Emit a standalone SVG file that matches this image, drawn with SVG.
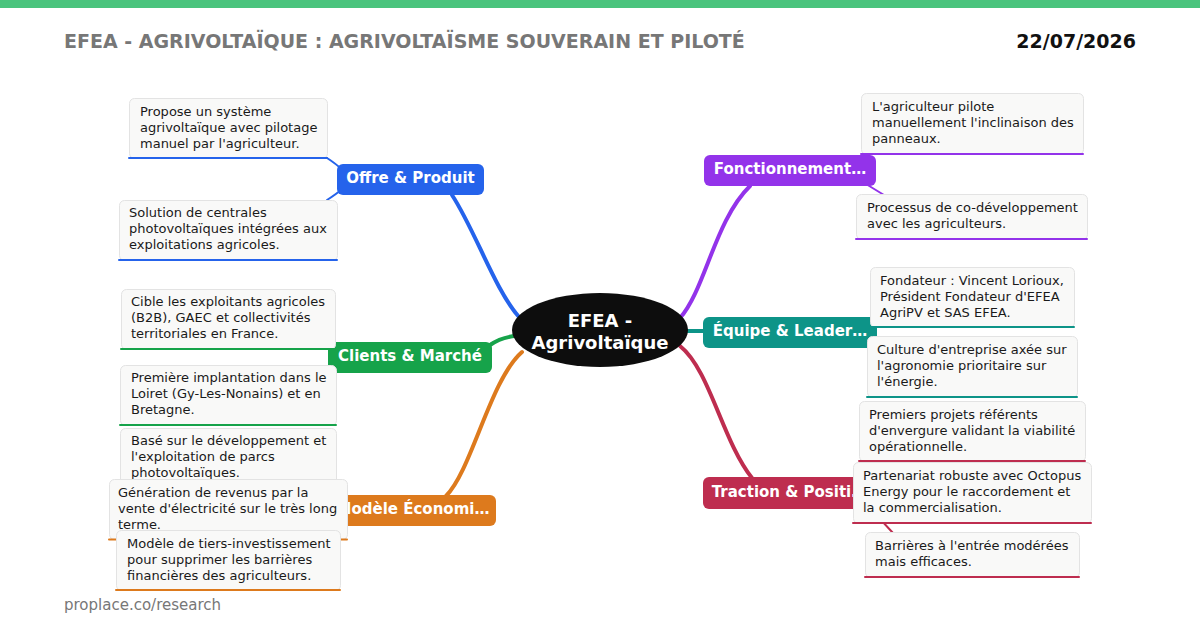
<svg xmlns="http://www.w3.org/2000/svg" width="1200" height="630" viewBox="0 0 1200 630">
<style>
text{font-family:"DejaVu Sans","Liberation Sans",sans-serif}
.title{font-size:19px;font-weight:bold;fill:#777}
.date{font-size:19px;font-weight:bold;fill:#111}
.foot{font-size:15px;fill:#777}
.br{font-size:15px;font-weight:bold;fill:#fff}
.lf{font-size:13px;fill:#1a1a1a}
.card{fill:#f9f9f8;stroke:#e3e3e3;stroke-width:1}
.main{fill:none;stroke-width:4;stroke-linecap:round}
.sub{fill:none;stroke-width:2;stroke-linecap:round}
.blue{stroke:#2563EB}.green{stroke:#16A34A}.orange{stroke:#DD7A1D}
.purple{stroke:#9333EA}.teal{stroke:#0D9488}.crimson{stroke:#BE2D4F}
</style>
<rect x="0" y="0" width="1200" height="630" fill="#fff"/>
<rect x="0" y="0" width="1200" height="8" fill="#4AC47D"/>
<text class="title" x="64" y="48">EFEA - AGRIVOLTAÏQUE : AGRIVOLTAÏSME SOUVERAIN ET PILOTÉ</text>
<text class="date" x="1136" y="48" text-anchor="end">22/07/2026</text>
<text class="foot" x="64" y="610">proplace.co/research</text>

<g id="connectors">
<path class="main blue" d="M 519 317 C 495 290, 475 230, 452 195"/>
<path class="main green" d="M 514 336 Q 500 338 490 345"/>
<path class="main orange" d="M 522 352 C 490 380, 472 470, 446 496"/>
<path class="main purple" d="M 680 318 C 705 290, 715 220, 750 186"/>
<path class="main teal" d="M 686 331 L 704 331"/>
<path class="main crimson" d="M 680 346 C 710 370, 722 440, 752 478"/>
<path class="sub blue" d="M 345 172 Q 335 163 327 158"/>
<path class="sub blue" d="M 345 187 Q 335 195 327 200"/>
<path class="sub green" d="M 340 350 L 334 348"/>
<path class="sub green" d="M 340 366 L 334 368"/>
<path class="sub orange" d="M 340 505 L 330 480"/>
<path class="sub orange" d="M 340 510 L 340 512"/>
<path class="sub orange" d="M 340 518 L 335 532"/>
<path class="sub purple" d="M 865 163 L 862 154"/>
<path class="sub purple" d="M 866 184 L 884 195"/>
<path class="sub teal" d="M 870 326 L 872 320"/>
<path class="sub teal" d="M 870 338 L 870 342"/>
<path class="sub crimson" d="M 860 480 L 862 460"/>
<path class="sub crimson" d="M 860 493 L 856 495"/>
<path class="sub crimson" d="M 868 506 L 893 533"/>
</g>

<g id="center">
<ellipse cx="600" cy="330" rx="88" ry="37" fill="#0d0d0d"/>
<text x="600" y="327" text-anchor="middle" font-size="18" font-weight="bold" fill="#fff">EFEA -</text>
<text x="600" y="349" text-anchor="middle" font-size="18" font-weight="bold" fill="#fff">Agrivoltaïque</text>
</g>

<g id="b-offre"><rect x="337" y="164" width="147" height="31" rx="6" fill="#2563EB"/><text class="br" x="410.5" y="183" text-anchor="middle">Offre &amp; Produit</text></g>
<g id="b-clients"><rect x="328" y="342" width="164" height="31" rx="6" fill="#16A34A"/><text class="br" x="410" y="361" text-anchor="middle">Clients &amp; Marché</text></g>
<g id="b-modele"><rect x="330" y="495" width="166" height="31" rx="6" fill="#DD7A1D"/><text class="br" x="413" y="514" text-anchor="middle">Modèle Économi…</text></g>
<g id="b-fonct"><rect x="704" y="155" width="172" height="31" rx="6" fill="#9333EA"/><text class="br" x="790" y="174" text-anchor="middle">Fonctionnement…</text></g>
<g id="b-equipe"><rect x="703" y="317" width="174" height="31" rx="6" fill="#0D9488"/><text class="br" x="790" y="336" text-anchor="middle">Équipe &amp; Leader…</text></g>
<g id="b-traction"><rect x="703" y="477" width="172" height="32" rx="6" fill="#BE2D4F"/><text class="br" x="789" y="497" text-anchor="middle">Traction &amp; Positi…</text></g>

<g id="l-offre-1"><rect class="card" x="129.5" y="98.5" width="198" height="60" rx="5"/><line class="sub blue" x1="129" y1="158" x2="327" y2="158" stroke-linecap="butt"/>
<text class="lf" x="140"><tspan x="140" y="116">Propose un système</tspan><tspan x="140" y="132">agrivoltaïque avec pilotage</tspan><tspan x="140" y="148">manuel par l'agriculteur.</tspan></text></g>
<g id="l-offre-2"><rect class="card" x="119.5" y="200.5" width="218" height="60" rx="5"/><line class="sub blue" x1="119" y1="260" x2="337" y2="260" stroke-linecap="butt"/>
<text class="lf"><tspan x="129" y="217">Solution de centrales</tspan><tspan x="129" y="233">photovoltaïques intégrées aux</tspan><tspan x="129" y="249">exploitations agricoles.</tspan></text></g>

<g id="l-clients-1"><rect class="card" x="121.5" y="289.5" width="214" height="60" rx="5"/><line class="sub green" x1="121" y1="349" x2="335" y2="349" stroke-linecap="butt"/>
<text class="lf"><tspan x="131" y="306">Cible les exploitants agricoles</tspan><tspan x="131" y="322">(B2B), GAEC et collectivités</tspan><tspan x="131" y="338">territoriales en France.</tspan></text></g>
<g id="l-clients-2"><rect class="card" x="120.5" y="365.5" width="216" height="60" rx="5"/><line class="sub green" x1="120" y1="425" x2="336" y2="425" stroke-linecap="butt"/>
<text class="lf"><tspan x="131" y="382">Première implantation dans le</tspan><tspan x="131" y="398">Loiret (Gy-Les-Nonains) et en</tspan><tspan x="131" y="414">Bretagne.</tspan></text></g>

<g id="l-modele-1"><rect class="card" x="120.5" y="428.5" width="216" height="60" rx="5"/><line class="sub orange" x1="120" y1="488" x2="336" y2="488" stroke-linecap="butt"/>
<text class="lf"><tspan x="131" y="445">Basé sur le développement et</tspan><tspan x="131" y="461">l'exploitation de parcs</tspan><tspan x="131" y="477">photovoltaïques.</tspan></text></g>
<g id="l-modele-2"><rect class="card" x="109.5" y="479.5" width="238" height="60" rx="5"/><line class="sub orange" x1="109" y1="539.5" x2="347" y2="539.5" stroke-linecap="butt"/>
<text class="lf"><tspan x="118" y="497">Génération de revenus par la</tspan><tspan x="118" y="513">vente d'électricité sur le très long</tspan><tspan x="118" y="529">terme.</tspan></text></g>
<g id="l-modele-3"><rect class="card" x="116.5" y="530.5" width="224" height="60" rx="5"/><line class="sub orange" x1="116" y1="590" x2="340" y2="590" stroke-linecap="butt"/>
<text class="lf"><tspan x="127" y="548">Modèle de tiers-investissement</tspan><tspan x="127" y="564">pour supprimer les barrières</tspan><tspan x="127" y="580">financières des agriculteurs.</tspan></text></g>

<g id="l-fonct-1"><rect class="card" x="861.5" y="93.5" width="222" height="61" rx="5"/><line class="sub purple" x1="861" y1="154" x2="1083" y2="154" stroke-linecap="butt"/>
<text class="lf"><tspan x="872" y="111">L'agriculteur pilote</tspan><tspan x="872" y="127">manuellement l'inclinaison des</tspan><tspan x="872" y="143">panneaux.</tspan></text></g>
<g id="l-fonct-2"><rect class="card" x="856.5" y="194.5" width="231" height="45" rx="5"/><line class="sub purple" x1="856" y1="239" x2="1087" y2="239" stroke-linecap="butt"/>
<text class="lf"><tspan x="867" y="212">Processus de co-développement</tspan><tspan x="867" y="228">avec les agriculteurs.</tspan></text></g>

<g id="l-equipe-1"><rect class="card" x="870.5" y="267.5" width="204" height="60" rx="5"/><line class="sub teal" x1="870" y1="327" x2="1074" y2="327" stroke-linecap="butt"/>
<text class="lf"><tspan x="880" y="285">Fondateur : Vincent Lorioux,</tspan><tspan x="880" y="301">Président Fondateur d'EFEA</tspan><tspan x="880" y="317">AgriPV et SAS EFEA.</tspan></text></g>
<g id="l-equipe-2"><rect class="card" x="867.5" y="336.5" width="210" height="61" rx="5"/><line class="sub teal" x1="867" y1="397" x2="1077" y2="397" stroke-linecap="butt"/>
<text class="lf"><tspan x="877" y="354">Culture d'entreprise axée sur</tspan><tspan x="877" y="370">l'agronomie prioritaire sur</tspan><tspan x="877" y="386">l'énergie.</tspan></text></g>

<g id="l-traction-1"><rect class="card" x="859.5" y="401.5" width="226" height="60" rx="5"/><line class="sub crimson" x1="859" y1="461" x2="1085" y2="461" stroke-linecap="butt"/>
<text class="lf"><tspan x="869" y="419">Premiers projets référents</tspan><tspan x="869" y="435">d'envergure validant la viabilité</tspan><tspan x="869" y="451">opérationnelle.</tspan></text></g>
<g id="l-traction-2"><rect class="card" x="853.5" y="462.5" width="238" height="61" rx="5"/><line class="sub crimson" x1="853" y1="523" x2="1091" y2="523" stroke-linecap="butt"/>
<text class="lf"><tspan x="863" y="480">Partenariat robuste avec Octopus</tspan><tspan x="863" y="496">Energy pour le raccordement et</tspan><tspan x="863" y="512">la commercialisation.</tspan></text></g>
<g id="l-traction-3"><rect class="card" x="865.5" y="532.5" width="214" height="45" rx="5"/><line class="sub crimson" x1="865" y1="577" x2="1079" y2="577" stroke-linecap="butt"/>
<text class="lf"><tspan x="875" y="550">Barrières à l'entrée modérées</tspan><tspan x="875" y="566">mais efficaces.</tspan></text></g>
</svg>
